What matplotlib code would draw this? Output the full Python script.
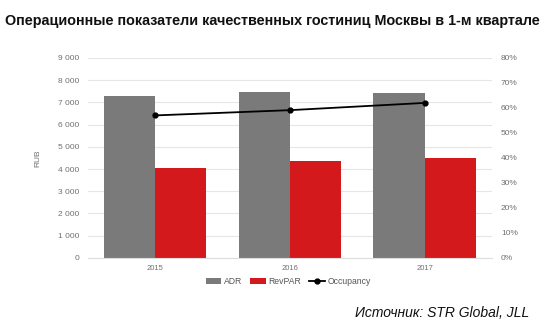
import matplotlib.pyplot as plt
import numpy as np
from matplotlib.ticker import FuncFormatter

plt.rcParams['font.family'] = ['Liberation Sans', 'DejaVu Sans']

# Данные по годам (1-й квартал)
years = ['2015', '2016', '2017']
adr = [7300, 7470, 7420]          # RUB
revpar = [4050, 4350, 4480]       # RUB
occupancy = [57.0, 59.1, 62.0]    # %

GRAY = '#7a7a7a'
RED = '#d3191b'
TICK = '#707070'

fig = plt.figure(figsize=(5.49, 3.29), dpi=100)
ax = fig.add_axes([0.160, 0.216, 0.736, 0.608])
ax2 = ax.twinx()

x = np.arange(len(years))
w = 0.38
ax.bar(x - w / 2, adr, width=w, color=GRAY, label='ADR', zorder=2)
ax.bar(x + w / 2, revpar, width=w, color=RED, label='RevPAR', zorder=2)
ax2.plot(x, occupancy, color='black', lw=1.3, marker='o', ms=3.5, label='Occupancy', zorder=3)

ax.set_xlim(-0.5, 2.5)
ax.set_ylim(0, 9000)
ax.set_yticks(np.arange(0, 9001, 1000))
ax.yaxis.set_major_formatter(FuncFormatter(lambda v, p: f'{int(v):,}'.replace(',', ' ')))
ax2.set_ylim(0, 80)
ax2.set_yticks(np.arange(0, 81, 10))
ax2.yaxis.set_major_formatter(FuncFormatter(lambda v, p: f'{int(v)}%'))

ax.set_xticks(x)
ax.set_xticklabels(years)
ax.grid(axis='y', color='#e6e6e6', lw=0.8, zorder=0)
ax.set_axisbelow(True)

for a in (ax, ax2):
    for s in a.spines.values():
        s.set_visible(False)
    a.tick_params(length=0, labelsize=6, labelcolor=TICK)
ax.spines['bottom'].set_visible(True)
ax.spines['bottom'].set_color('#dddddd')
ax.tick_params(axis='y', pad=6)
ax2.tick_params(axis='y', pad=6.5)
ax.tick_params(axis='x', pad=5, labelsize=5.5)

ax.set_ylabel('RUB', fontsize=6, color=TICK, labelpad=12)

h1, l1 = ax.get_legend_handles_labels()
h2, l2 = ax2.get_legend_handles_labels()
fig.legend(h1 + h2, l1 + l2, loc='center', bbox_to_anchor=(0.525, 0.143), ncol=3,
           frameon=False, fontsize=6.2, labelcolor='#555555', handlelength=1.8,
           handletextpad=0.25, columnspacing=1.0)

fig.text(0.009, 0.935, 'Операционные показатели качественных гостиниц Москвы в 1-м квартале',
         fontsize=10.4, fontweight='bold', color='#111111', va='center')
fig.text(0.964, 0.048, 'Источник: STR Global, JLL', fontsize=10, style='italic',
         color='#111111', ha='right', va='center')

fig.savefig('out.png', dpi=100)
